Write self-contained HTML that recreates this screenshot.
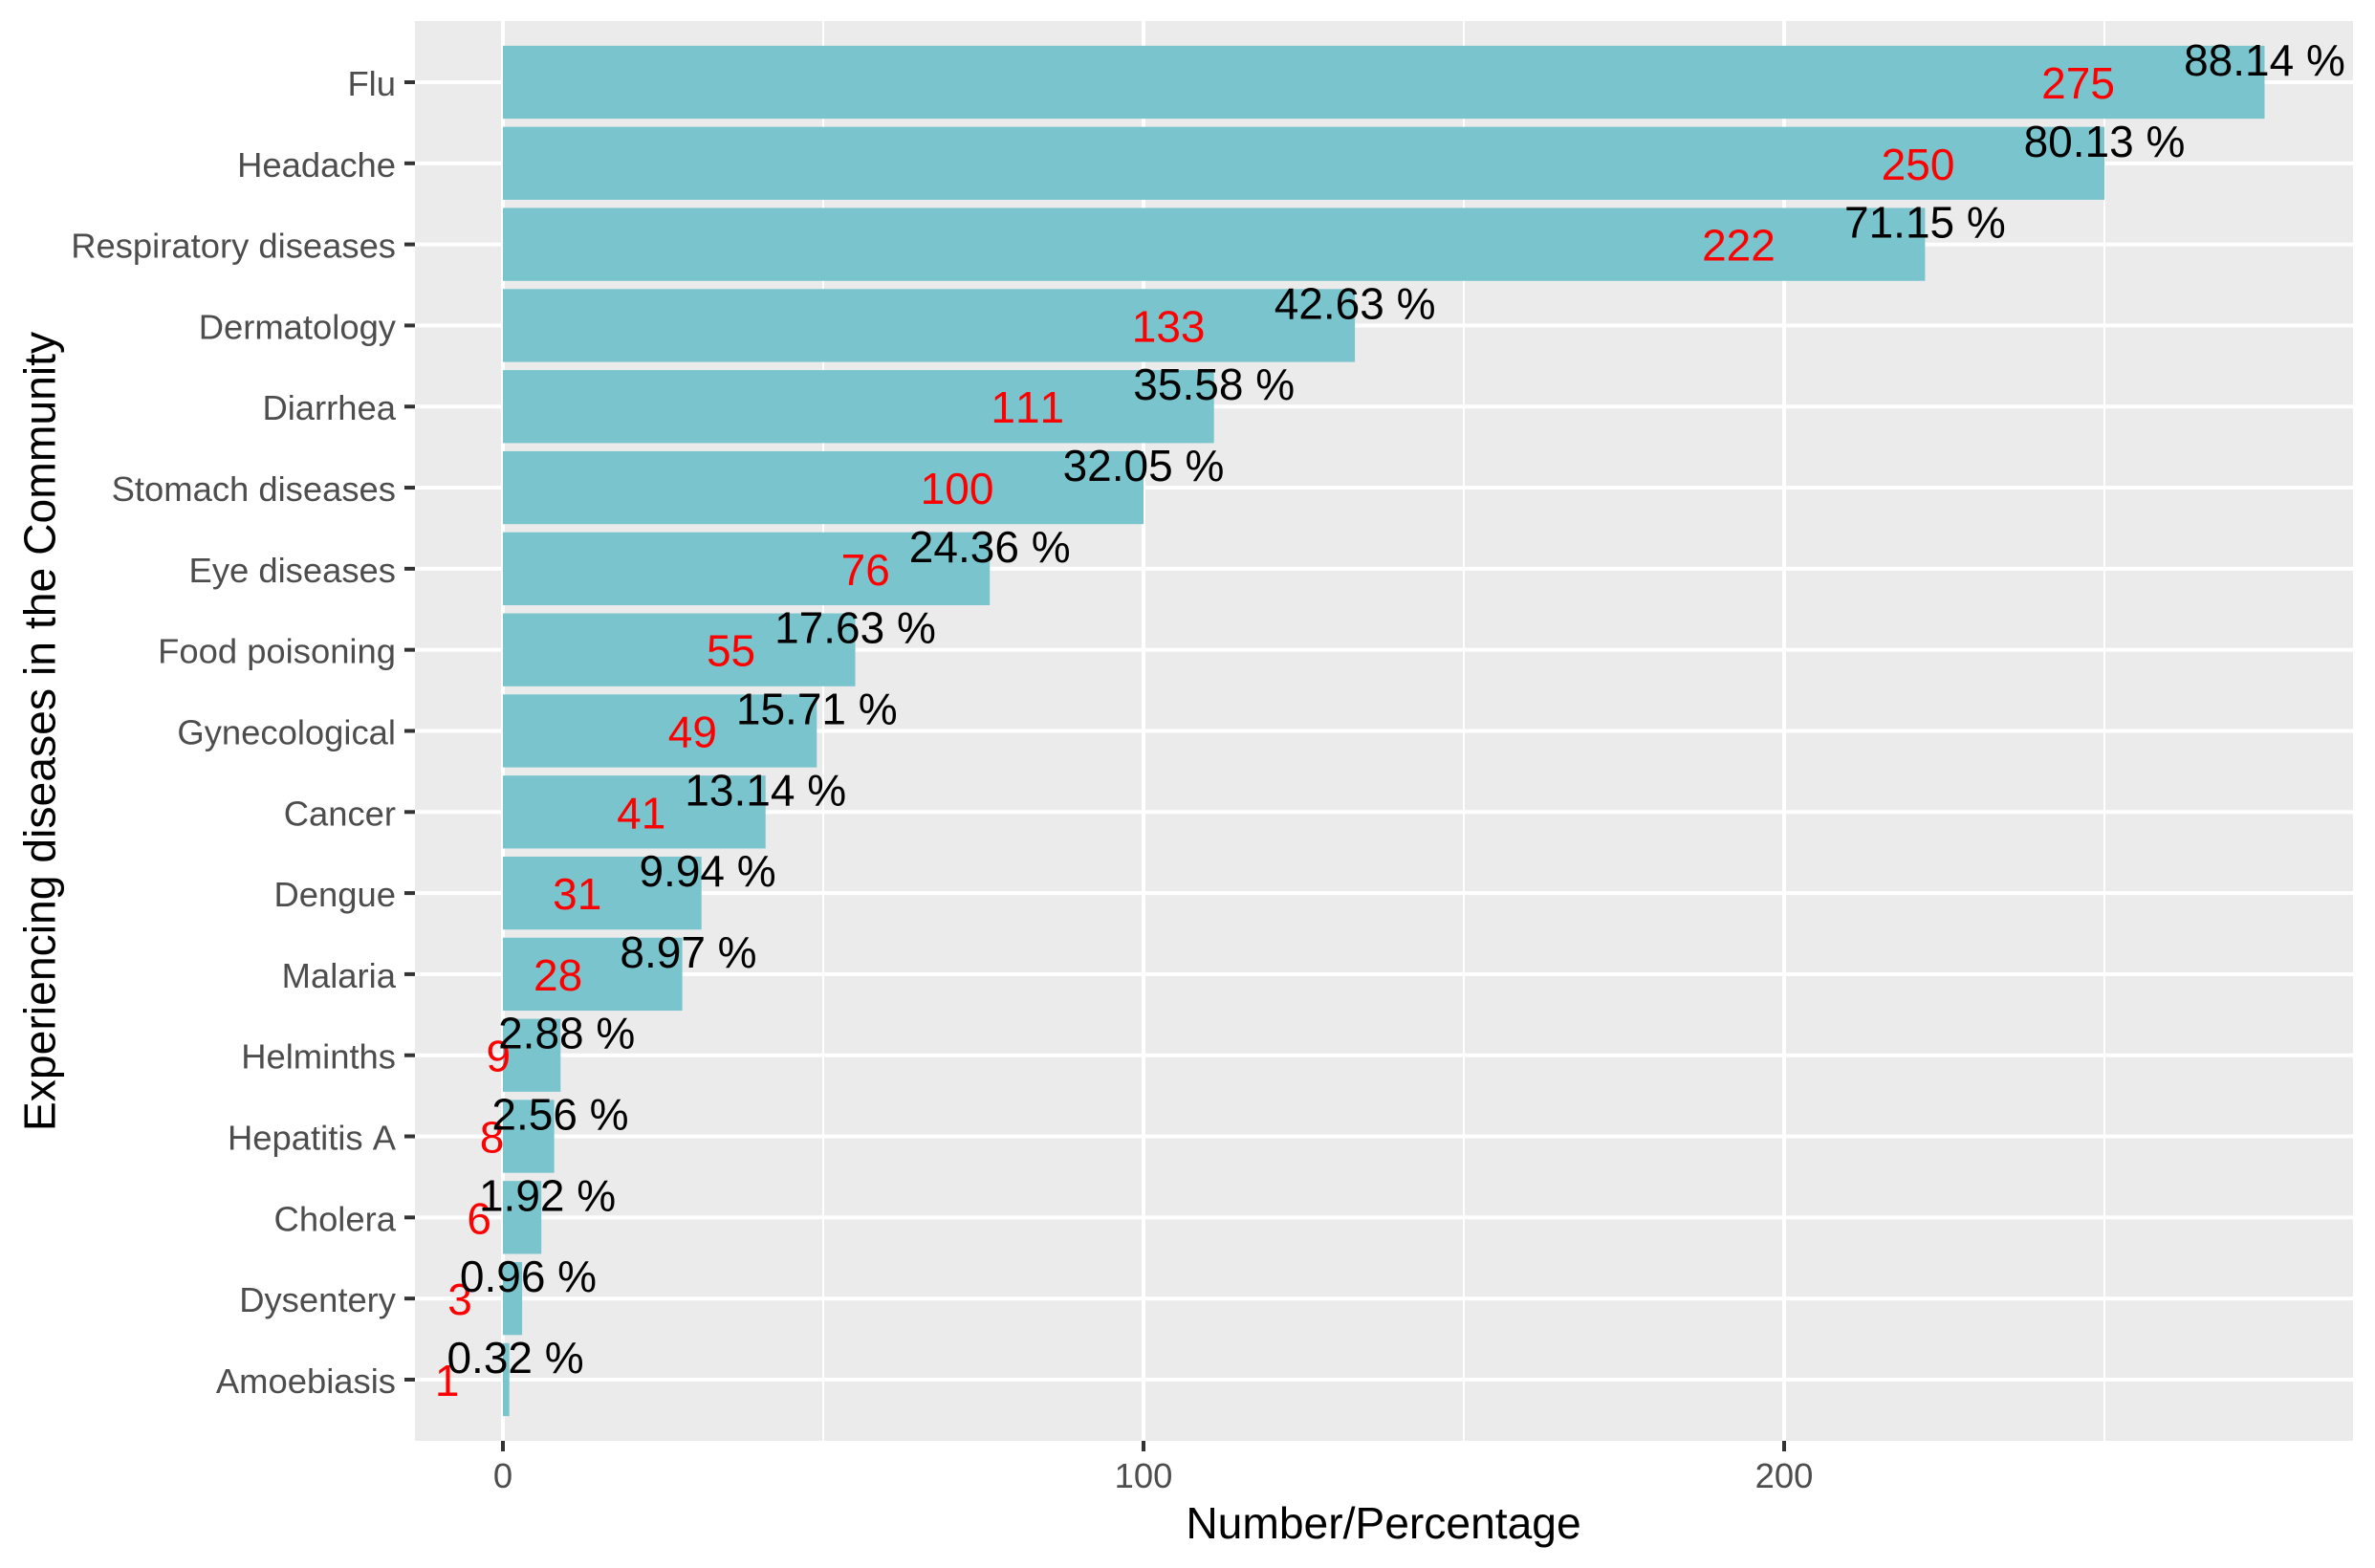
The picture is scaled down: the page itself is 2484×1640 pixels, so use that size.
<!DOCTYPE html>
<html lang="en">
<head>
<meta charset="utf-8">
<title>Experiencing diseases in the Community</title>
<style>
html,body{margin:0;padding:0;background:#fff;}
svg{display:block;font-family:"Liberation Sans",Arial,sans-serif;font-kerning:none;}
text{white-space:pre;font-kerning:none;}
</style>
</head>
<body>
<svg id="chart" xmlns="http://www.w3.org/2000/svg" width="2484" height="1640" viewBox="0 0 2484 1640">
  <rect x="0" y="0" width="2484" height="1640" fill="#ffffff"/>
  <rect x="434" y="22" width="2027" height="1485" fill="#EBEBEB"/>
  <g id="grid"></g>
  <g id="bars"></g>
  <g id="count-labels"></g>
  <g id="percent-labels"></g>
  <g id="y-axis"></g>
  <g id="x-axis"></g>
  <text x="1447" y="1609" font-size="46.2" text-anchor="middle" fill="#000">Number/Percentage</text>
  <text transform="translate(57.5,765) rotate(-90)" font-size="46.3" text-anchor="middle" fill="#000">Experiencing diseases in the Community</text>
</svg>
<script>
const categories = ["Flu","Headache","Respiratory diseases","Dermatology","Diarrhea","Stomach diseases","Eye diseases","Food poisoning","Gynecological","Cancer","Dengue","Malaria","Helminths","Hepatitis A","Cholera","Dysentery","Amoebiasis"];
const counts = [275,250,222,133,111,100,76,55,49,41,31,28,9,8,6,3,1];
const percentages = [88.14,80.13,71.15,42.63,35.58,32.05,24.36,17.63,15.71,13.14,9.94,8.97,2.88,2.56,1.92,0.96,0.32];
const xMajorTicks = [0,100,200];
const xMinorTicks = [50,150,250];

const NS = "http://www.w3.org/2000/svg";
const panel = {left: 434, right: 2461, top: 22, bottom: 1507};
const xScale = function (v) { return 526 + 6.7 * v; };
const yScale = function (i) { return 86 + 84.81 * i; };
const barHeight = 76.3;

function make(tag, parent) {
  const el = document.createElementNS(NS, tag);
  parent.appendChild(el);
  return el;
}
function setAll(el, props) {
  Object.keys(props).forEach(function (k) { el.setAttribute(k, props[k]); });
}

const grid = document.getElementById("grid");
const bars = document.getElementById("bars");
const countLabels = document.getElementById("count-labels");
const percentLabels = document.getElementById("percent-labels");
const yAxis = document.getElementById("y-axis");
const xAxis = document.getElementById("x-axis");

xMinorTicks.forEach(function (t) {
  const el = make("rect", grid);
  
  
  setAll(el, {x: xScale(t) - 1, y: panel.top, width: 2, height: panel.bottom - panel.top, fill: "#fff"});
});
xMajorTicks.forEach(function (t) {
  const el = make("rect", grid);
  
  
  setAll(el, {x: xScale(t) - 2, y: panel.top, width: 4, height: panel.bottom - panel.top, fill: "#fff"});

  const tick = make("rect", xAxis);
  
  
  setAll(tick, {x: xScale(t) - 2, y: panel.bottom, width: 4, height: 11, fill: "#333333"});

  const label = make("text", xAxis);
  
  
  setAll(label, {x: xScale(t), y: 1556, "font-size": 36.4, "text-anchor": "middle", fill: "#4D4D4D"});
  label.textContent = String(t);
});

categories.forEach(function (name, i) {
  const y = yScale(i);

  const gl = make("rect", grid);
  
  
  setAll(gl, {x: panel.left, y: y - 2, width: panel.right - panel.left, height: 4, fill: "#fff"});

  const bar = make("rect", bars);
  
  
  setAll(bar, {x: xScale(0), y: y - barHeight / 2, width: xScale(counts[i]) - xScale(0), height: barHeight, fill: "#7AC5CD"});

  const count = make("text", countLabels);
  
  
  setAll(count, {y: y + 17, "font-size": 46, "text-anchor": "middle", fill: "#FF0000"});
  count.textContent = String(counts[i]);
  count.setAttribute("x", xScale(counts[i]) - 2.54 * count.getComputedTextLength());

  const pct = make("text", percentLabels);
  
  
  setAll(pct, {x: xScale(counts[i]), y: y - 7, "font-size": 46, "text-anchor": "middle", fill: "#000"});
  pct.textContent = percentages[i].toFixed(2).padStart(5, " ") + " %";

  const tick = make("rect", yAxis);
  
  
  setAll(tick, {x: panel.left - 11, y: y - 2, width: 11, height: 4, fill: "#333333"});

  const label = make("text", yAxis);
  
  
  setAll(label, {x: 414, y: y + 14, "font-size": 36.4, "text-anchor": "end", fill: "#4D4D4D"});
  label.textContent = name;
});
</script>
</body>
</html>
